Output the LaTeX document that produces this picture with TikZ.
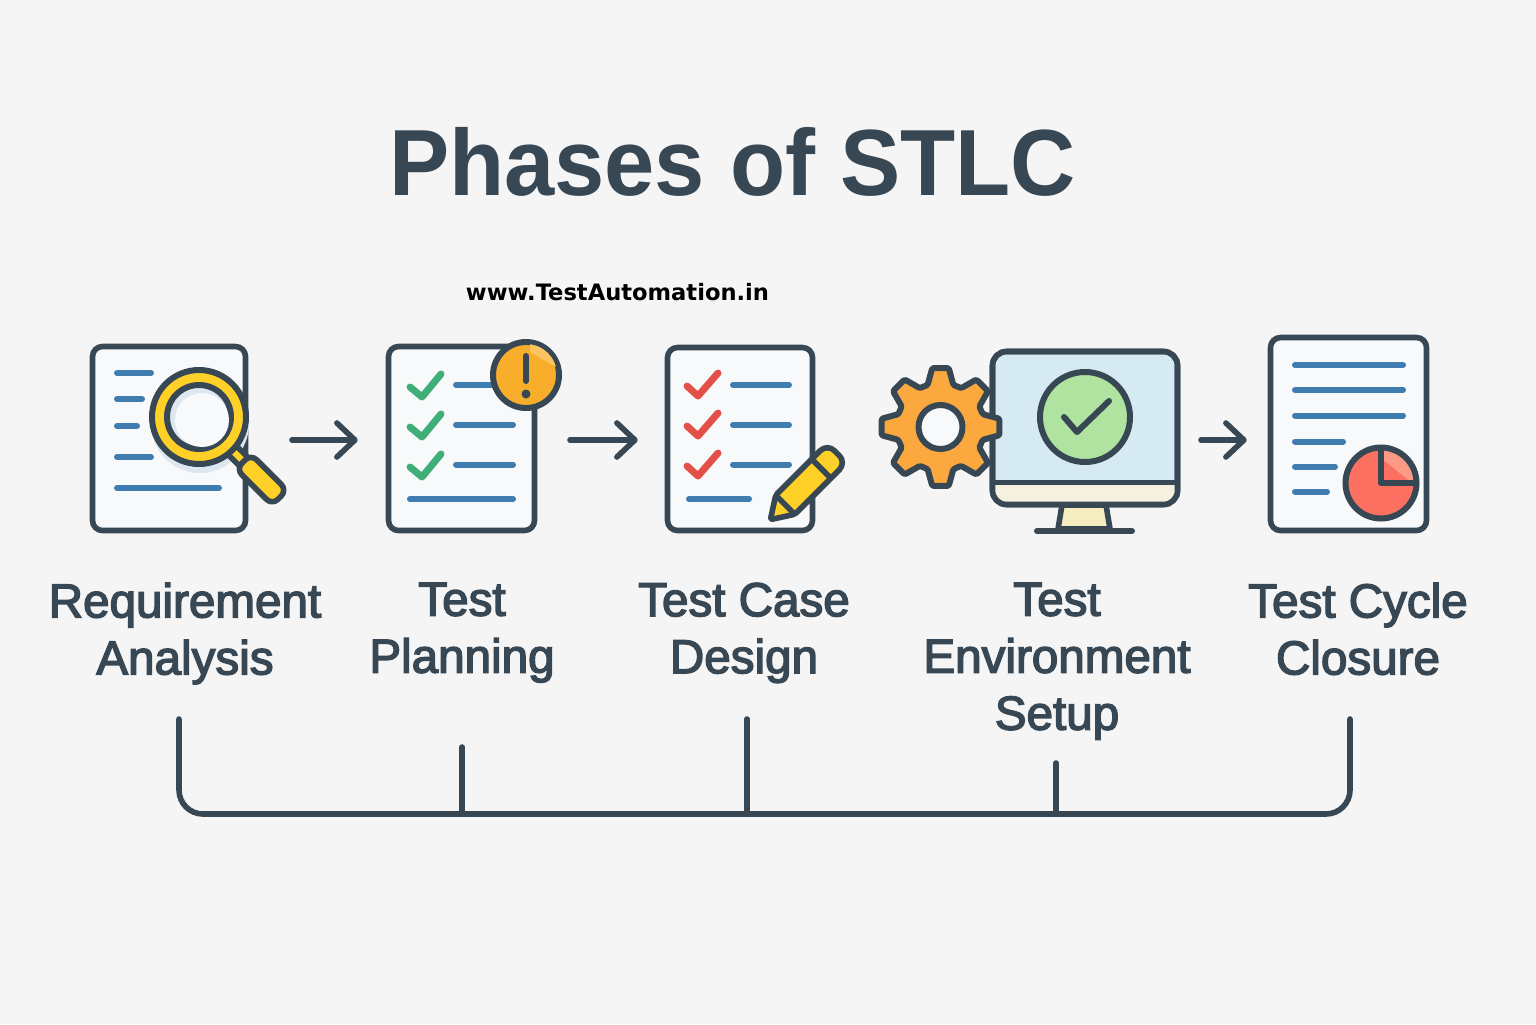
\documentclass[tikz,border=0pt]{standalone}
\usepackage{fontspec}
\usepackage{color}
\usetikzlibrary{arrows.meta,positioning}
\setmainfont{Liberation Sans}
\newfontfamily\titlefont[FakeStretch=0.96]{Liberation Sans}
\newfontfamily\labelfont[FakeBold=3]{Liberation Sans}
\newfontfamily\webfont{DejaVu Sans}
\definecolor{pagebg}{RGB}{245,245,245}
\definecolor{inkdark}{RGB}{55,71,84}
\definecolor{paper}{RGB}{248,249,250}
\definecolor{lineblue}{RGB}{63,124,176}
\definecolor{checkgreen}{RGB}{64,174,120}
\definecolor{checkred}{RGB}{226,80,72}
\definecolor{amber}{RGB}{249,174,43}
\definecolor{amberlight}{RGB}{252,196,96}
\definecolor{lensyellow}{RGB}{255,208,39}
\definecolor{lensblue}{RGB}{221,231,240}
\definecolor{gearorange}{RGB}{251,169,63}
\definecolor{screenblue}{RGB}{214,234,244}
\definecolor{screengreen}{RGB}{176,227,160}
\definecolor{basecream}{RGB}{245,240,223}
\definecolor{standcream}{RGB}{245,237,192}
\definecolor{piecoral}{RGB}{251,112,96}
\definecolor{pielight}{RGB}{252,154,133}
\tikzset{
  docbox/.style={draw=inkdark, fill=paper, line width=2.8pt, rounded corners=5pt, inner sep=0pt},
  textline/.style={draw=lineblue, line width=3pt, line cap=round},
  inkline/.style={draw=inkdark, line width=2.8pt, line join=round},
  checkmark/.style={line width=3.5pt, line cap=round, line join=round},
  flowarrow/.style={draw=inkdark, line width=2.8pt, line cap=round, -{Straight Barb[round,length=9pt,width=17pt]}},
  railline/.style={draw=inkdark, line width=2.8pt, line cap=round},
  phaselabel/.style={font=\labelfont\fontsize{23.8}{28.5}\selectfont, text=inkdark, align=center, inner sep=0pt, anchor=north, execute at begin node={\strut}}
}
\begin{document}
\begin{tikzpicture}[x=0.5pt, y=-0.5pt]
  \fill[pagebg] (0,0) rectangle (1536,1024);
  \useasboundingbox (0,0) rectangle (1536,1024);

  \node (title) at (732.5,162) {\titlefont\bfseries\fontsize{47}{50}\selectfont\textcolor{inkdark}{Phases of STLC}};
  \node (website) at (617.5,292) {\webfont\bfseries\fontsize{11.3}{14}\selectfont www.TestAutomation.in};

  % requirement analysis
  \node[docbox, minimum width=76.5pt, minimum height=92pt] (reqdoc) at (169,438.5) {};
  \draw[textline] (117,373) -- (151,373);
  \draw[textline] (117,399) -- (142,399);
  \draw[textline] (117,426) -- (137,426);
  \draw[textline] (117,457) -- (151,457);
  \draw[textline] (117,488) -- (219,488);
  \fill[lensblue] (200,424) circle (49);
  \begin{scope}[shift={(199,417)}, rotate=-45]
    \draw[inkline, fill=lensyellow] (45,-6) rectangle (65,6);
    \draw[inkline, fill=lensyellow, rounded corners=4pt] (63,-10.5) rectangle (114,10.5);
  \end{scope}
  \draw[inkline, line width=3pt, fill=lensyellow] (199,417) circle (47);
  \draw[inkline, line width=3pt, fill=lensblue] (199,417) circle (32);
  \fill[paper] (202,420) circle (27);

  % test planning
  \node[docbox, minimum width=73pt, minimum height=92pt] (plandoc) at (461.5,438.5) {};
  \foreach \y in {387,427,467}
    \draw[checkmark, draw=checkgreen] (410,\y) -- (422,\y+10) -- (441,\y-13);
  \draw[textline] (456,385) -- (500,385);
  \draw[textline] (456,425) -- (513,425);
  \draw[textline] (456,464.5) -- (513,464.5);
  \draw[textline] (410,499) -- (513,499);
  \draw[inkline, line width=3pt, fill=amber] (526,375) circle (33);
  \begin{scope}
    \clip (526,375) circle (31);
    \fill[amberlight] (530,340) -- (565,340) -- (565,372) -- (530,352) -- cycle;
  \end{scope}
  \draw[inkdark, line width=3pt, line cap=round] (526,356) -- (526,381);
  \fill[inkdark] (526,394) circle (4.5);

  % test case design
  \node[docbox, minimum width=72.5pt, minimum height=91.5pt] (casedoc) at (740,439) {};
  \foreach \y in {386,426,466}
    \draw[checkmark, draw=checkred] (687,\y) -- (698,\y+10) -- (718,\y-13);
  \draw[textline] (733,385) -- (789,385);
  \draw[textline] (733,425) -- (789,425);
  \draw[textline] (733,464.5) -- (789,464.5);
  \draw[textline] (689,499) -- (749,499);
  \begin{scope}[shift={(769,521)}, rotate=45]
    \draw[inkline, fill=lensyellow, rounded corners=1pt] (2,0) -- (23,-13.5)
      [rounded corners=5pt] -- (96,-13.5) -- (96,13.5)
      [rounded corners=1pt] -- (23,13.5) -- cycle;
    \draw[inkline] (74,-13.5) -- (74,13.5);
    \draw[inkline] (23,-13.5) -- (23,13.5);
  \end{scope}

  % test environment setup
  \draw[inkline, fill=standcream] (1062,505) -- (1058,529) -- (1110,529) -- (1106,505) -- cycle;
  \draw[inkline, line width=3pt, line cap=round] (1037,531) -- (1132,531);
  \node[docbox, fill=screenblue, rounded corners=7pt, minimum width=92.5pt, minimum height=76.5pt] (screen) at (1085,428) {};
  \begin{scope}
    \clip[rounded corners=7pt] (992.5,351.5) rectangle (1177.5,504.5);
    \fill[basecream] (992.5,482.5) rectangle (1177.5,504.5);
  \end{scope}
  \draw[inkline, rounded corners=7pt] (992.5,351.5) rectangle (1177.5,504.5);
  \draw[inkline] (992.5,482.5) -- (1177.5,482.5);
  \draw[inkline, line width=3pt, fill=screengreen] (1085,417) circle (45);
  \draw[checkmark, draw=inkdark, line width=3pt] (1064,417) -- (1077,432) -- (1109,401);
  \begin{scope}[shift={(940.5,427)}]
    \draw[inkline, line width=3pt, fill=gearorange, rounded corners=0.7pt]
      (-17:44)
      \foreach \a in {0,45,...,315}{
        -- (\a-17:44) -- (\a-8:59.5) -- (\a+8:59.5) -- (\a+17:44)
      } -- cycle;
    \draw[inkline, line width=3pt, fill=paper] (0,0) circle (22);
  \end{scope}

  % test cycle closure
  \node[docbox, minimum width=78pt, minimum height=96.5pt] (closedoc) at (1348.5,434) {};
  \draw[textline] (1295,365) -- (1403,365);
  \draw[textline] (1295,390) -- (1403,390);
  \draw[textline] (1295,415.5) -- (1403,415.5);
  \draw[textline] (1295,441.5) -- (1343,441.5);
  \draw[textline] (1295,466.5) -- (1335,466.5);
  \draw[textline] (1295,491.5) -- (1327,491.5);
  \fill[piecoral] (1381,483) circle (35.5);
  \begin{scope}
    \clip (1381,483) circle (34);
    \fill[pielight] (1381,445) -- (1420,445) -- (1420,483) -- (1412,483) -- (1381,458) -- cycle;
  \end{scope}
  \draw[inkline, line width=3pt] (1381,483) circle (35.5);
  \draw[inkline, line width=3pt] (1381,448) -- (1381,483) -- (1416,483);

  % arrows
  \coordinate (arrowreq) at (292,440);
  \coordinate (arrowplan) at (570,440);
  \coordinate (arrowenv) at (1201,440);
  \draw[flowarrow, shorten >=14pt] (arrowreq) -- (arrowreq -| plandoc.west);
  \draw[flowarrow, shorten >=13.5pt] (arrowplan) -- (arrowplan -| casedoc.west);
  \draw[flowarrow, shorten >=10.5pt] (arrowenv) -- (arrowenv -| closedoc.west);

  % labels
  \node[phaselabel] (reqlabel) at (185,582.5) {Requirement\\Analysis};
  \node[phaselabel] (planlabel) at (462,582.5) {Test\\Planning};
  \node[phaselabel] (caselabel) at (744,582.5) {Test Case\\Design};
  \node[phaselabel] (envlabel) at (1057,582.5) {Test\\Environment\\Setup};
  \node[phaselabel] (closelabel) at (1358,582.5) {Test Cycle\\Closure};

  % bracket
  \coordinate (reqtop) at (179,719);
  \coordinate (plantop) at (462,747);
  \coordinate (casetop) at (747,719);
  \coordinate (envtop) at (1056,763);
  \coordinate (closetop) at (1350,719);
  \coordinate (rail) at (747,814);
  \draw[railline, rounded corners=12pt] (reqtop) -- (reqtop |- rail) -- (closetop |- rail) -- (closetop);
  \draw[railline] (plantop) -- (plantop |- rail);
  \draw[railline] (casetop) -- (casetop |- rail);
  \draw[railline] (envtop) -- (envtop |- rail);
\end{tikzpicture}
\end{document}
